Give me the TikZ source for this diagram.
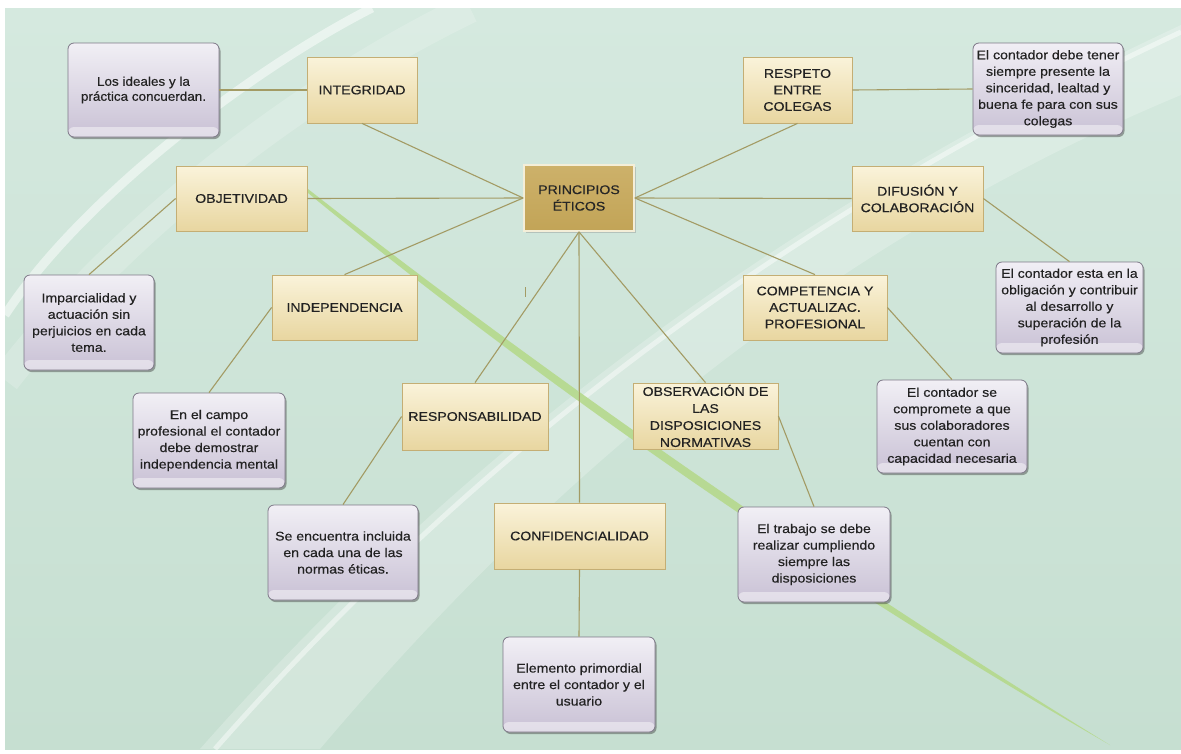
\documentclass[tikz,border=0pt]{standalone}
\usepackage{fontspec}
\setmainfont{Liberation Sans}[FakeStretch=1.12, FakeBold=0.4]
\newfontfamily\plainfont{Liberation Sans}[FakeStretch=1.07, FakeBold=0.4]
\usetikzlibrary{shadows}
\definecolor{bgtop}{HTML}{D5E9DF}
\definecolor{bgbot}{HTML}{C6DFD1}
\definecolor{ytop}{HTML}{FAF3DA}
\definecolor{ybot}{HTML}{E8D6A0}
\definecolor{ybord}{HTML}{C4AE74}
\definecolor{ptop}{HTML}{F1EFF5}
\definecolor{pbot}{HTML}{C9C1D5}
\definecolor{pbord}{HTML}{7E7888}
\definecolor{ctop}{HTML}{CDB16A}
\definecolor{cbot}{HTML}{C2A457}
\definecolor{cbord}{HTML}{F4EED8}
\definecolor{lnk}{HTML}{A39B64}
\definecolor{txt}{HTML}{222222}
\definecolor{gband}{HTML}{B5D98C}
\begin{document}
\begin{tikzpicture}[x=1pt,y=-1pt,
  every node/.style={align=center, text=txt, inner sep=2pt, font=\fontsize{12.6}{16.5}\selectfont},
  ybox/.style={draw=ybord, line width=0.8pt, top color=ytop, bottom color=ybot,
    drop shadow={shadow xshift=1pt, shadow yshift=-1.2pt, opacity=0.25}},
  pbox/.style={rounded corners=6pt, draw=pbord, line width=0.8pt, top color=ptop, bottom color=pbot,
    drop shadow={shadow xshift=1.5pt, shadow yshift=-2pt, opacity=0.45, fill=black!75},
    path picture={\fill[white,opacity=0.45] ([yshift=10pt]path picture bounding box.south west) rectangle (path picture bounding box.south east);}},
  cbox/.style={draw=cbord, line width=1.8pt, top color=ctop, bottom color=cbot, text=black!85,
    drop shadow={shadow xshift=1.5pt, shadow yshift=-2pt, opacity=0.35}},
  link/.style={draw=lnk, line width=1.1pt}
]
\useasboundingbox (0,0) rectangle (1181,753);
\fill[white] (0,0) rectangle (1181,753);
\shade[top color=bgtop, bottom color=bgbot] (5,8) rectangle (1181,749);
% background swooshes
\fill[white, opacity=0.22] (200,749) .. controls (420,500) and (720,240) .. (1181,25) -- (1181,95) .. controls (760,270) and (480,560) .. (320,749) -- cycle;
\draw[white, opacity=0.45, line width=5pt] (215,749) .. controls (430,505) and (725,245) .. (1181,32);
\draw[white, opacity=0.5, line width=9pt] (372,8) .. controls (250,70) and (80,200) .. (5,315);
\draw[white, opacity=0.18, line width=30pt] (470,8) .. controls (300,90) and (120,230) .. (5,380);
\fill[gband, opacity=0.9] (308,189) .. controls (520,355) and (800,554) .. (1110,745) .. controls (800,567) and (520,367) .. (308,193) -- cycle;

% nodes
\node[cbox, minimum width=110pt, minimum height=66pt] (center) at (579,198) {PRINCIPIOS\\ÉTICOS};
\node[pbox, minimum width=151pt, minimum height=94pt, font=\plainfont\fontsize{12.6}{15}\selectfont] (ideal) at (143.5,90) {Los ideales y la\\práctica concuerdan.};
\node[ybox, minimum width=110pt, minimum height=66pt] (integ) at (362,90) {INTEGRIDAD};
\node[ybox, minimum width=109pt, minimum height=66pt] (respeto) at (797.5,90) {RESPETO\\ENTRE\\COLEGAS};
\node[pbox, minimum width=150pt, minimum height=92pt] (sinc) at (1048,89) {El contador debe tener\\siempre presente la\\sinceridad, lealtad y\\buena fe para con sus\\colegas};
\node[ybox, minimum width=131pt, minimum height=65pt] (objet) at (241.5,198.5) {OBJETIVIDAD};
\node[ybox, minimum width=131pt, minimum height=65pt] (difus) at (917.5,198.5) {DIFUSIÓN Y\\COLABORACIÓN};
\node[pbox, minimum width=130pt, minimum height=95pt] (impar) at (89,322.5) {Imparcialidad y\\actuación sin\\perjuicios en cada\\tema.};
\node[ybox, minimum width=145pt, minimum height=65pt] (indep) at (344.5,307.5) {INDEPENDENCIA};
\node[ybox, minimum width=144pt, minimum height=65pt] (compet) at (815,307.5) {COMPETENCIA Y\\ACTUALIZAC.\\PROFESIONAL};
\node[pbox, minimum width=147pt, minimum height=91pt] (obliga) at (1069.5,307.5) {El contador esta en la\\obligación y contribuir\\al desarrollo y\\superación de la\\profesión};
\node[pbox, minimum width=152pt, minimum height=95pt] (campo) at (209,440.5) {En el campo\\profesional el contador\\debe demostrar\\independencia mental};
\node[ybox, minimum width=146pt, minimum height=67pt] (respon) at (475,416.5) {RESPONSABILIDAD};
\node[ybox, minimum width=145pt, minimum height=66pt, inner sep=0pt, font=\fontsize{12.6}{17}\selectfont] (observ) at (705.5,416) {OBSERVACIÓN DE\\LAS\\DISPOSICIONES\\NORMATIVAS};
\node[pbox, minimum width=150pt, minimum height=93pt] (compro) at (952,426.5) {El contador se\\compromete a que\\sus colaboradores\\cuentan con\\capacidad necesaria};
\node[pbox, minimum width=150pt, minimum height=95pt] (seenc) at (343,552.5) {Se encuentra incluida\\en cada una de las\\normas éticas.};
\node[ybox, minimum width=171pt, minimum height=66pt] (confid) at (579.5,536) {CONFIDENCIALIDAD};
\node[pbox, minimum width=152pt, minimum height=95pt] (trabajo) at (814,554.5) {El trabajo se debe\\realizar cumpliendo\\siempre las\\disposiciones};
\node[pbox, minimum width=152pt, minimum height=95pt] (elem) at (579,684.5) {Elemento primordial\\entre el contador y el\\usuario};

% connectors
\draw[link] (ideal.east) -- (integ.west);
\draw[link] (integ.south) -- (center.west);
\draw[link] (objet.east) -- (center.west);
\draw[link] (indep.north) -- (center.west);
\draw[link] (respeto.south) -- (center.east);
\draw[link] (difus.west) -- (center.east);
\draw[link] (compet.north) -- (center.east);
\draw[link] (center.south) -- (respon.north);
\draw[link] (center.south) -- (confid.north);
\draw[link] (center.south) -- (observ.north);
\draw[link] (respeto.east) -- (sinc.west);
\draw[link] (difus.east) -- (obliga.north);
\draw[link] (compet.east) -- (compro.north);
\draw[link] (observ.east) -- (trabajo.north);
\draw[link] (objet.west) -- (impar.north);
\draw[link] (indep.west) -- (campo.north);
\draw[link] (respon.west) -- (seenc.north);
\draw[link] (confid.south) -- (elem.north);
\draw[lnk, line width=0.8pt] (525,287) -- (525,297);
\end{tikzpicture}
\end{document}
